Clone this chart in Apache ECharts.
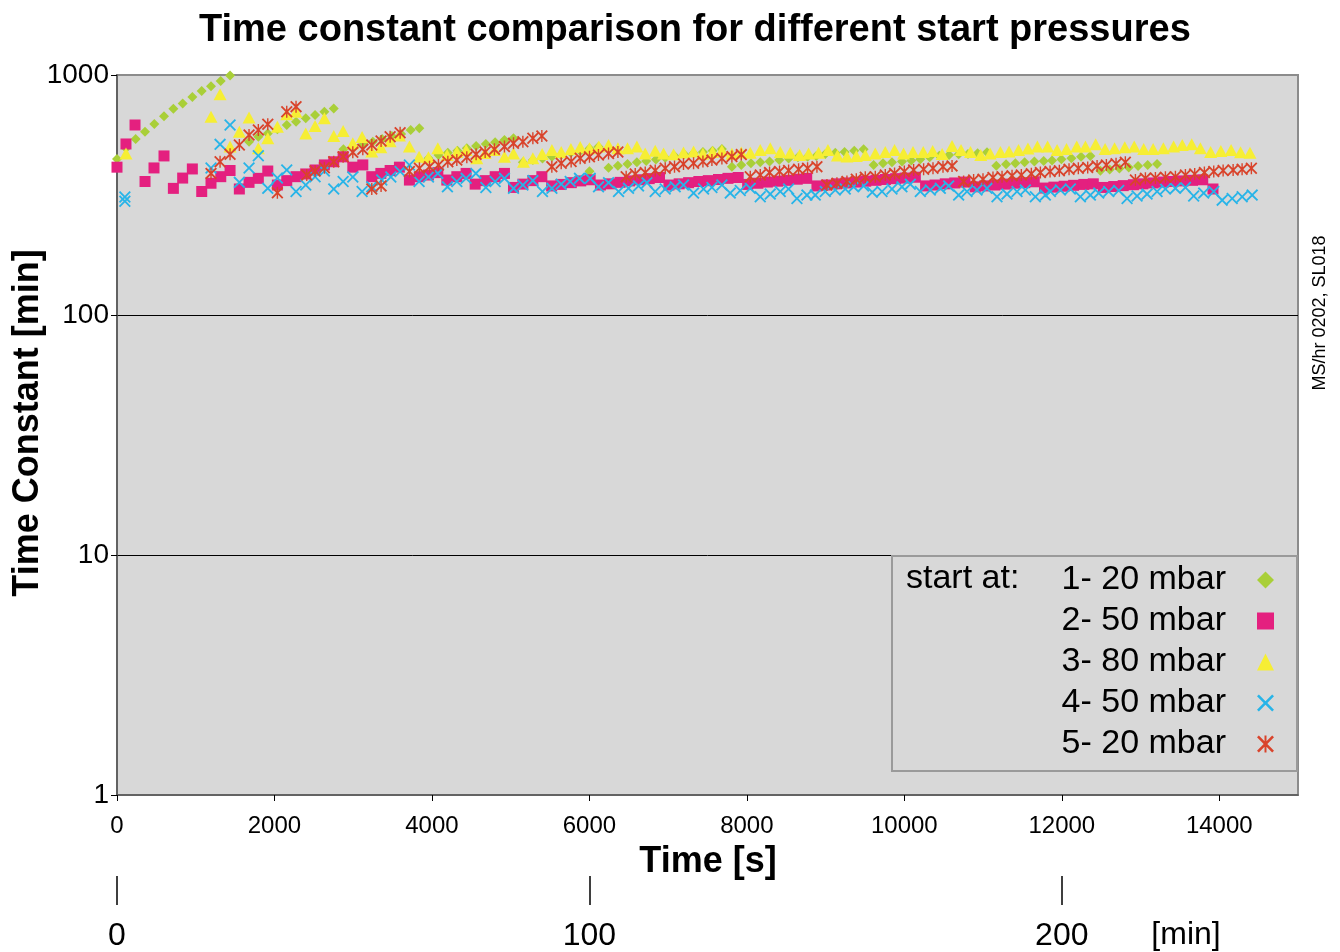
<!DOCTYPE html>
<html>
<head>
<meta charset="utf-8">
<script src="https://cdn.jsdelivr.net/npm/echarts@6/dist/echarts.min.js"></script>
<style>
html,body{margin:0;padding:0;background:#fff;}
#chart{width:1340px;height:952px;}
</style>
</head>
<body>
<div id="chart"></div>
<script>
// ---- Data (time [s], time constant [min]) ----
const xTicks = [0, 2000, 4000, 6000, 8000, 10000, 12000, 14000];
const minTicks = [0, 100, 200];
const seriesNames = ['1- 20 mbar', '2- 50 mbar', '3- 80 mbar', '4- 50 mbar', '5- 20 mbar'];

const s1 = [
[0,447],[114,495],[237,541],[356,580],[474,625],[597,673],[716,724],[834,760],[957,810],[1076,858],[1194,897],[1317,944],[1436,996],
[1677,527],[1796,553],[1915,571],[2037,594],[2156,619],[2274,638],[2397,660],[2516,681],[2634,703],[2753,726],
[2876,490],[3003,503],[3130,514],[3249,527],[3367,541],[3491,557],[3609,568],[3730,590],[3840,600],
[3956,450],[4083,464],[4202,474],[4324,484],[4443,495],[4561,506],[4684,516],[4803,524],[4921,536],[5036,545],
[5155,433],[5282,442],[5404,449],[5524,456],[5642,464],[5765,474],[5883,482],[6001,494],[6115,502],
[6001,397],
[6243,411],[6362,419],[6484,426],[6603,433],[6721,438],[6845,445],[6963,452],[7081,460],[7204,467],[7323,472],[7442,478],[7564,484],[7683,492],
[7810,415],[7929,422],[8052,429],[8170,433],[8288,436],[8411,442],[8530,449],[8649,454],[8771,456],[8881,460],[8996,469],[9123,474],[9241,478],[9364,484],[9483,490],
[9610,422],[9729,429],[9843,433],[9970,436],[10089,440],[10203,446],[10321,454],[10444,461],[10568,464],[10690,467],[10809,469],[10931,472],[11050,477],
[11168,419],[11292,425],[11410,429],[11528,433],[11652,436],[11770,438],[11876,440],[11995,446],[12122,450],[12245,456],[12363,460],
[12490,399],[12608,404],[12731,408],[12850,412],[12969,418],[13091,422],[13210,426]
];

const s2 = [
[0,413],[114,516],[229,619],
[356,360],[470,410],[597,460],
[716,337],[834,372],[957,406],
[1076,327],[1194,354],[1318,377],[1436,400],
[1554,335],[1677,357],[1795,371],[1915,398],
[2037,348],[2156,363],[2274,377],[2397,387],[2516,402],[2634,422],[2753,435],[2872,456],
[2995,413],[3122,422],
[3236,377],[3351,389],[3469,400],[3587,413],
[3714,365],[3841,377],[3956,383],[4075,392],
[4189,365],[4316,377],[4434,389],
[4549,351],[4676,363],[4803,377],[4921,389],
[5036,340],[5155,351],[5282,363],[5396,377],
[5520,345],[5640,350],[5770,356],[5890,362],[6010,366],
[6140,348],[6260,352],[6390,357],[6510,362],[6640,366],[6760,370],[6890,374],
[7010,348],[7140,352],[7260,356],[7390,360],[7510,363],[7640,367],[7760,371],[7890,374],
[8010,350],[8140,354],[8260,358],[8390,361],[8510,364],[8640,368],[8760,371],
[8890,345],[9010,348],[9140,352],[9260,355],[9390,358],[9510,361],[9640,364],[9760,367],[9890,370],[10010,372],[10140,375],
[10270,345],[10390,348],[10520,352],[10640,355],[10770,358],
[10900,342],[11020,345],[11150,348],[11280,351],[11400,354],[11530,356],[11650,359],
[11780,338],[11900,341],[12030,344],[12150,347],[12280,350],[12400,352],
[12530,340],[12660,343],[12780,346],[12910,349],[13030,352],[13160,355],[13290,358],[13410,360],[13540,362],[13660,364],[13790,366],
[13920,335]
];

const s3 = [
[114,471],
[1194,670],[1309,831],
[1436,503],[1554,580],[1677,665],
[1795,495],[1915,545],[2037,609],[2156,686],[2274,703],
[2397,571],[2516,613],[2634,660],
[2753,557],[2872,585],[2995,520],[3113,551],[3236,480],[3351,500],[3469,530],[3587,560],
[3714,503],[3837,456],[3956,454],[4075,495],[4193,464],[4316,478],[4434,487],[4570,450],[4676,473],[4794,487],[4921,456],[5036,471],[5163,435],[5282,450],[5400,469],[5524,487],[5642,478],[5765,492],[5883,501],[6001,495],[6120,503],
[6243,511],[6362,495],[6484,495],[6603,503],[6709,471],[6836,484],[6942,471],[7069,467],[7195,475],[7323,480],[7442,470],[7564,478],[7683,485],[7810,470],[7929,475],
[8043,474],[8170,487],[8297,495],[8424,478],[8551,474],[8670,464],[8784,471],[8911,474],[9030,487],[9150,462],[9270,458],[9390,460],
[9504,464],[9631,471],[9758,478],[9876,487],[9990,471],[10110,478],[10240,478],[10360,482],[10480,469],[10606,506],[10720,487],[10840,478],[10970,464],
[11090,471],[11220,478],[11330,480],[11450,487],[11570,494],[11690,503],[11820,503],[11940,487],[12060,492],[12190,503],[12300,503],[12430,514],
[12550,492],[12670,495],[12800,500],[12920,503],[13040,492],[13160,492],[13290,495],[13420,503],[13530,511],[13650,514],[13760,495],[13890,478],[14020,482],[14150,487],[14270,476],[14390,474]
];

const s4 = [
[100,310],[100,298],
[1194,410],[1309,514],[1436,619],
[1554,357],[1677,410],[1795,461],
[1915,337],[2037,372],[2156,402],
[2274,327],[2397,348],[2516,377],[2634,398],
[2753,335],[2872,360],[2995,376],
[3113,327],[3236,342],[3363,365],[3478,376],[3596,396],[3714,422],
[3837,360],[3956,376],[4075,389],
[4197,342],[4316,360],[4434,371],[4558,389],
[4685,340],[4803,360],[4921,371],
[5036,337],[5155,348],[5282,363],
[5404,327],[5524,337],[5642,351],[5756,360],[5874,371],[6010,371],
[6116,342],[6243,356],
[6370,327],[6497,337],[6624,345],[6730,356],
[6836,327],[6963,335],[7090,342],[7195,348],
[7323,322],[7450,335],[7556,340],[7683,348],
[7789,322],[7916,330],[8043,337],
[8170,311],[8297,319],[8424,327],[8530,335],
[8636,306],[8763,316],[8869,316],[8996,327],[9123,332],[9250,335],[9356,342],[9483,345],
[9593,325],[9716,327],[9843,335],[9970,342],[10076,351],
[10203,327],[10330,332],[10457,337],[10563,345],
[10690,316],[10796,327],[10923,332],[11050,337],
[11177,311],[11304,319],[11431,327],[11537,332],
[11664,311],[11791,316],[11855,327],[11982,332],[12109,335],
[12236,311],[12363,316],[12469,322],[12596,327],[12723,330],
[12829,306],[12956,313],[13083,319],[13210,327],[13316,335],[13443,337],[13570,340],
[13675,313],[13802,322],[13930,327],
[14037,301],[14164,306],[14291,311],[14418,316]
];

const s5 = [
[1194,389],[1309,435],[1436,467],[1554,511],[1677,562],[1795,590],[1915,623],[2156,703],[2274,738],
[2037,323],
[2410,383],[2516,398],[2634,411],[2753,435],[2872,456],[2995,476],[3122,490],[3236,511],[3354,531],[3469,553],[3596,575],
[3236,335],[3354,345],
[3714,396],[3841,409],[3969,415],[4083,422],[4202,435],[4316,442],[4443,454],[4561,467],[4676,478],[4794,490],[4921,503],[5036,519],[5155,527],[5282,545],[5396,557],
[5523,415],[5642,429],[5768,436],[5883,450],[6001,456],[6115,464],[6243,471],[6362,478],
[6467,377],[6582,387],[6709,392],[6836,400],[6963,409],[7081,415],[7195,426],[7323,429],[7442,436],[7556,442],[7683,449],[7810,457],[7929,466],
[8043,377],[8170,383],[8288,392],[8415,396],[8530,400],[8657,405],[8771,409],[8890,415],
[9017,348],[9144,354],[9271,360],[9390,368],[9504,375],[9631,377],[9758,383],[9876,389],[10000,396],[10118,402],[10245,405],[10364,409],[10491,415],[10606,418],
[10753,360],[10880,365],[10999,368],[11126,374],[11241,377],[11368,380],[11486,383],[11613,388],[11728,392],[11851,396],[11969,399],[12092,405],[12210,409],[12329,412],[12448,418],[12566,422],[12689,427],[12807,433],
[12935,365],[13062,371],[13189,372],[13316,375],[13443,377],[13570,383],[13688,387],[13811,392],[13930,396],[14049,400],[14176,402],[14290,405],[14408,409]
];

// ---- Styles ----
const colors = ['#a9cf38', '#e4207f', '#f6ee34', '#27b4e8', '#d9432b'];
const xPath = 'path://M0,1.3 L1.3,0 L6,4.7 L10.7,0 L12,1.3 L7.3,6 L12,10.7 L10.7,12 L6,7.3 L1.3,12 L0,10.7 L4.7,6 Z';
const starPath = 'path://M0,1.3 L1.3,0 L6,4.7 L10.7,0 L12,1.3 L7.3,6 L12,10.7 L10.7,12 L6,7.3 L1.3,12 L0,10.7 L4.7,6 Z M5.3,0 L6.7,0 L6.7,12 L5.3,12 Z';
const symbols = ['diamond', 'rect', 'triangle', xPath, starPath];
const sizes = [[10,10], [11,11], [13,12], [12,12], [12,12]];
const datasets = [s1, s2, s3, s4, s5];
const FONT = '"Liberation Sans", Arial, Helvetica, sans-serif';
const plain = v => String(v);

const chart = echarts.init(document.getElementById('chart'), null, {renderer: 'canvas'});

const series = datasets.map((d, i) => ({
  name: seriesNames[i],
  type: 'scatter',
  xAxisIndex: 0,
  yAxisIndex: 0,
  data: d,
  symbol: symbols[i],
  symbolSize: sizes[i],
  symbolKeepAspect: true,
  itemStyle: {color: colors[i], opacity: 1},
  emphasis: {disabled: true},
  animation: false,
  z: 2 + i
}));

const option = {
  backgroundColor: '#ffffff',
  animation: false,
  textStyle: {fontFamily: FONT},
  title: {
    text: 'Time constant comparison for different start pressures',
    left: 199,
    top: 12,
    padding: 0,
    textStyle: {fontFamily: FONT, fontSize: 38, fontWeight: 'bold', color: '#000'}
  },
  grid: [
    {left: 117, right: 42, top: 75, bottom: 157, show: true, backgroundColor: '#d8d8d8', borderColor: '#8c8c8c', borderWidth: 2, containLabel: false},
    {left: 117, right: 42, top: 870, height: 6, show: false}
  ],
  xAxis: [
    {
      type: 'value', gridIndex: 0, min: 0, max: 15000,
      axisLine: {show: true, onZero: false, lineStyle: {color: '#555', width: 1.5}},
      axisTick: {show: true, length: 6, customValues: xTicks, lineStyle: {color: '#000', width: 1}},
      axisLabel: {customValues: xTicks, formatter: plain, fontSize: 24, color: '#000', margin: 19, fontFamily: FONT},
      splitLine: {show: false}
    },
    {
      type: 'value', gridIndex: 1, min: 0, max: 250,
      axisLine: {show: false},
      axisTick: {show: true, length: 29, customValues: minTicks, lineStyle: {color: '#000', width: 1.5}},
      axisLabel: {customValues: minTicks, formatter: plain, fontSize: 32, color: '#000', margin: 44, fontFamily: FONT},
      splitLine: {show: false}
    }
  ],
  yAxis: [
    {
      type: 'log', gridIndex: 0, logBase: 10, min: 1, max: 1000,
      axisLine: {show: true, onZero: false, lineStyle: {color: '#555', width: 1.5}},
      axisTick: {show: true, length: 6, lineStyle: {color: '#000'}},
      minorTick: {show: false},
      axisLabel: {formatter: plain, fontSize: 28, color: '#000', margin: 8, fontFamily: FONT},
      splitLine: {show: true, lineStyle: {color: ['#8c8c8c', '#000', '#000', '#8c8c8c'], width: 1}}
    },
    {type: 'value', gridIndex: 1, show: false}
  ],
  legend: {
    orient: 'vertical',
    right: 66,
    top: 563,
    align: 'right',
    itemWidth: 17,
    itemHeight: 17,
    itemGap: 7,
    padding: 0,
    selectedMode: false,
    data: seriesNames,
    textStyle: {fontSize: 34, lineHeight: 33, color: '#000', fontFamily: FONT, padding: [0, 26, 0, 0]}
  },
  graphic: [
    {type: 'rect', left: 891, top: 555, shape: {width: 405, height: 215}, style: {fill: 'rgba(0,0,0,0)', stroke: '#9a9a9a', lineWidth: 2}, z: 10, silent: true},
    {type: 'text', left: 906, top: 562, style: {text: 'start at:', fontSize: 34, fontFamily: FONT, fill: '#000'}, z: 10},
    {type: 'text', x: 28, y: 423, rotation: Math.PI / 2, style: {text: 'Time Constant [min]', fontSize: 36, fontWeight: 'bold', fontFamily: FONT, fill: '#000', align: 'center', verticalAlign: 'middle'}},
    {type: 'text', x: 708, y: 862, style: {text: 'Time [s]', fontSize: 36, fontWeight: 'bold', fontFamily: FONT, fill: '#000', align: 'center', verticalAlign: 'middle'}},
    {type: 'text', x: 1186, y: 935, style: {text: '[min]', fontSize: 32, fontFamily: FONT, fill: '#000', align: 'center', verticalAlign: 'middle'}},
    {type: 'text', x: 1320, y: 313, rotation: Math.PI / 2, style: {text: 'MS/hr 0202, SL018', fontSize: 18, fontFamily: FONT, fill: '#000', align: 'center', verticalAlign: 'middle'}}
  ],
  series: series
};

chart.setOption(option);
</script>
</body>
</html>
